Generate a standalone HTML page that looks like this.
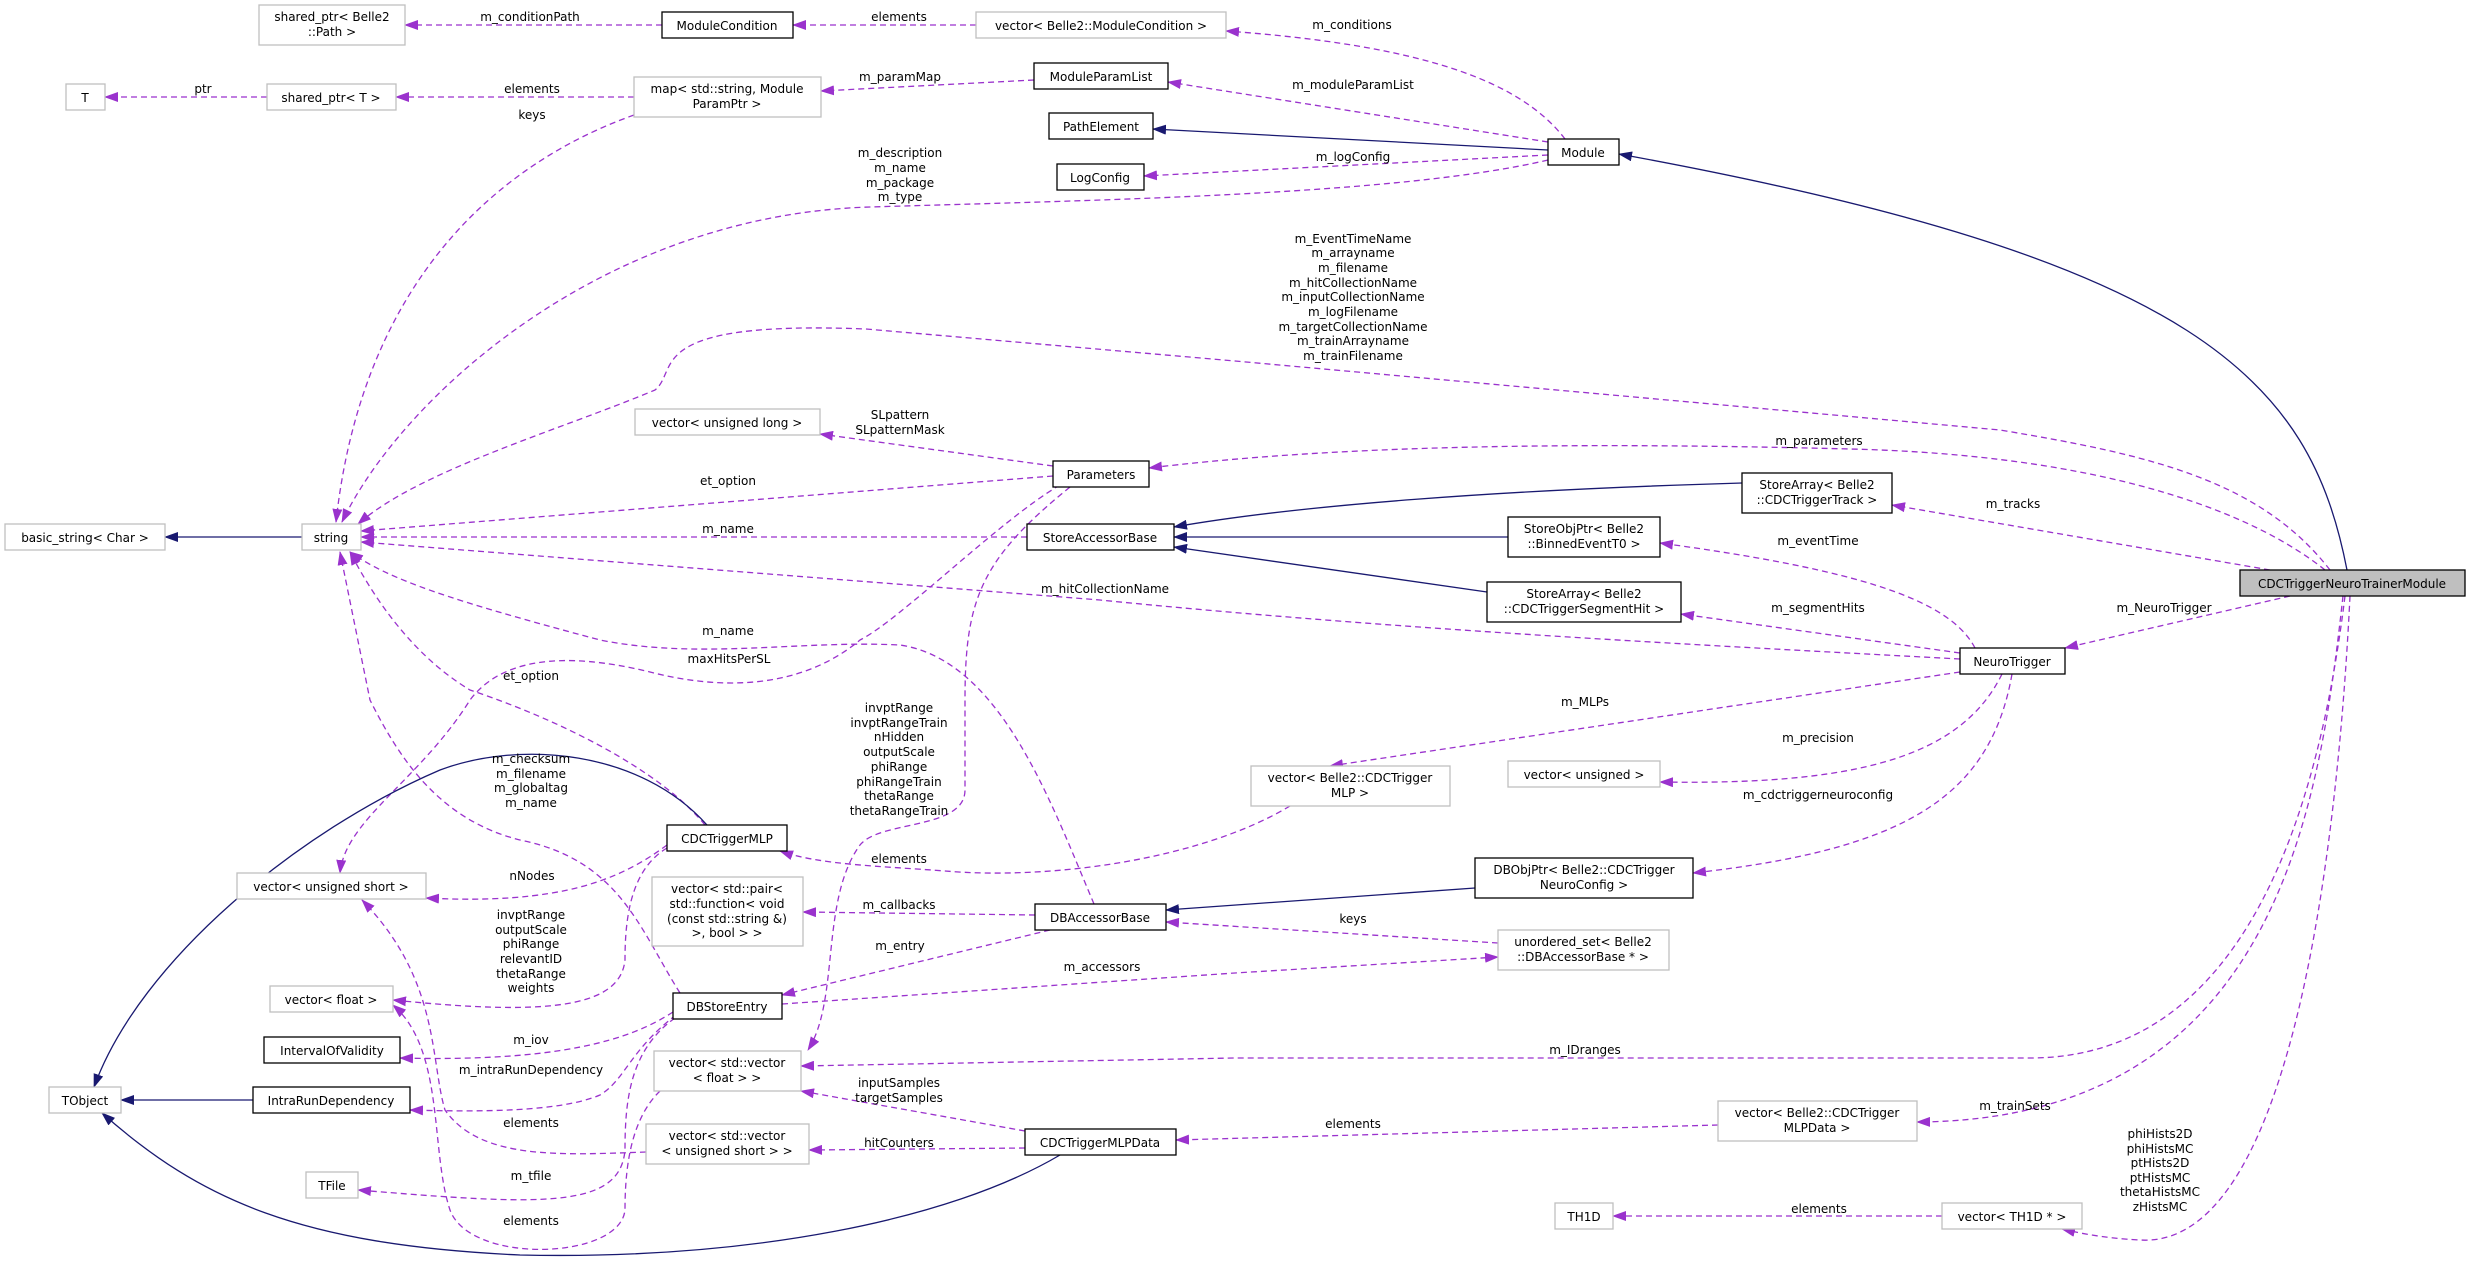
<!DOCTYPE html>
<html><head><meta charset="utf-8"><style>
html,body{margin:0;padding:0;background:#fff;}
svg{display:block;}
text{font-family:"DejaVu Sans","Liberation Sans",sans-serif;font-size:12px;fill:#000;}
.g{fill:#fff;stroke:#bfbfbf;stroke-width:1.3;}
.b{fill:#fff;stroke:#000;stroke-width:1.3;}
.e{fill:none;stroke:#9a32cd;stroke-width:1.3;stroke-dasharray:6,4;marker-end:url(#ap);}
.s{fill:none;stroke:#191970;stroke-width:1.3;marker-end:url(#an);}
</style></head><body>
<svg width="2469" height="1261" viewBox="0 0 2469 1261" xmlns="http://www.w3.org/2000/svg">
<defs>
<marker id="ap" markerWidth="14" markerHeight="10" refX="13" refY="5" orient="auto" markerUnits="userSpaceOnUse"><path d="M0,0 L14,5 L0,10 z" fill="#9a32cd"/></marker>
<marker id="an" markerWidth="14" markerHeight="10" refX="13" refY="5" orient="auto" markerUnits="userSpaceOnUse"><path d="M0,0 L14,5 L0,10 z" fill="#191970"/></marker>
</defs>

<!-- edges -->
<path class="e" d="M662,25 L405,25"/>
<path class="e" d="M976,25 L793,25"/>
<path class="e" d="M1565,139 C1520,80 1420,45 1226,31"/>
<path class="e" d="M1548,142 L1168,82"/>
<path class="s" d="M1548,150 L1153,129"/>
<path class="e" d="M1548,155 L1144,176"/>
<path class="e" d="M1548,160 C1400,195 1100,200 870,207 C600,215 400,400 342,522"/>
<path class="e" d="M1034,80 L821,91"/>
<path class="e" d="M634,97 L396,97"/>
<path class="e" d="M267,97 L105,97"/>
<path class="e" d="M634,115 C480,170 360,300 336,522"/>
<path class="s" d="M2347,570 C2310,380 2200,260 1619,154"/>
<path class="e" d="M2330,570 C2260,480 2150,455 2000,430 L1235,361 L866,329 C640,320 680,370 655,390 C560,430 420,470 358,524"/>
<path class="e" d="M2325,570 C2250,510 2100,455 1850,449 C1500,440 1300,450 1149,468"/>
<path class="e" d="M2270,570 L1892,505"/>
<path class="e" d="M1053,466 L820,434"/>
<path class="e" d="M1053,476 L361,531"/>
<path class="e" d="M1027,537 L361,537"/>
<path class="e" d="M1960,659 C1700,645 1400,630 1100,600 L361,542"/>
<path class="s" d="M1742,483 C1500,490 1300,505 1174,527"/>
<path class="s" d="M1508,537 L1174,537"/>
<path class="s" d="M1487,592 L1174,547"/>
<path class="e" d="M1975,648 C1950,600 1860,570 1660,543"/>
<path class="e" d="M1960,653 L1681,614"/>
<path class="e" d="M2290,596 L2065,648"/>
<path class="e" d="M1960,672 L1330,766"/>
<path class="e" d="M2002,674 C1960,760 1850,785 1660,782"/>
<path class="e" d="M2012,674 C1990,800 1900,850 1693,873"/>
<path class="e" d="M1094,904 C1050,800 1000,660 900,645 C800,640 700,660 600,640 C450,600 390,580 350,552"/>
<path class="e" d="M1060,485 C1000,520 900,620 860,640 C800,690 720,690 650,672 C560,650 500,660 470,700 C420,780 345,820 340,873"/>
<path class="e" d="M1070,487 C980,560 965,600 965,700 L965,790 C965,830 880,820 860,845 C820,900 840,1000 808,1050"/>
<path class="e" d="M705,825 C660,770 560,720 470,690 C420,660 380,610 350,552"/>
<path class="e" d="M680,993 C640,930 620,860 520,840 C440,820 400,760 370,700 L340,552"/>
<path class="e" d="M667,845 C620,880 560,905 426,898"/>
<path class="e" d="M667,848 C630,870 625,920 625,960 C620,1010 540,1015 393,1000"/>
<path class="e" d="M673,1012 C630,1040 560,1062 400,1058"/>
<path class="e" d="M676,1015 C630,1050 625,1080 600,1095 C560,1112 480,1112 410,1110"/>
<path class="s" d="M253,1100 L121,1100"/>
<path class="s" d="M707,825 C640,750 520,740 440,770 C300,830 140,960 94,1087"/>
<path class="s" d="M1060,1155 C950,1220 750,1260 520,1255 C300,1245 200,1200 102,1113"/>
<path class="e" d="M1035,915 L803,912"/>
<path class="e" d="M1050,930 L782,995"/>
<path class="e" d="M782,1004 L1235,973 L1498,957"/>
<path class="e" d="M1498,943 L1166,922"/>
<path class="s" d="M1475,888 L1166,910"/>
<path class="e" d="M1290,806 C1200,860 1050,880 945,871 C880,866 820,865 780,851"/>
<path class="e" d="M2345,596 C2320,800 2250,1058 2030,1058 L1235,1058 L801,1066"/>
<path class="e" d="M2343,596 C2320,800 2280,1120 1917,1122"/>
<path class="e" d="M2350,596 C2340,800 2300,1250 2140,1240 C2100,1238 2075,1232 2062,1229"/>
<path class="e" d="M1942,1216 L1613,1216"/>
<path class="e" d="M1718,1125 L1176,1140"/>
<path class="e" d="M1025,1131 L801,1091"/>
<path class="e" d="M1025,1148 L809,1150"/>
<path class="e" d="M646,1152 C560,1155 480,1160 445,1110 C430,1060 440,980 362,900"/>
<path class="e" d="M675,1018 C630,1050 625,1100 625,1150 C620,1210 540,1205 358,1190"/>
<path class="e" d="M660,1091 C630,1120 625,1170 625,1210 C620,1260 470,1265 450,1210 C430,1150 445,1050 393,1005"/>
<path class="s" d="M302,537 L165,537"/>

<!-- edge labels -->
<g text-anchor="middle">
<text x="530" y="21">m_conditionPath</text>
<text x="899" y="21">elements</text>
<text x="1352" y="29">m_conditions</text>
<text x="1353" y="89">m_moduleParamList</text>
<text x="1353" y="161">m_logConfig</text>
<text x="900" y="157">m_description</text>
<text x="900" y="172">m_name</text>
<text x="900" y="187">m_package</text>
<text x="900" y="201">m_type</text>
<text x="900" y="81">m_paramMap</text>
<text x="532" y="93">elements</text>
<text x="203" y="93">ptr</text>
<text x="532" y="119">keys</text>
<text x="1353" y="243">m_EventTimeName</text>
<text x="1353" y="257">m_arrayname</text>
<text x="1353" y="272">m_filename</text>
<text x="1353" y="287">m_hitCollectionName</text>
<text x="1353" y="301">m_inputCollectionName</text>
<text x="1353" y="316">m_logFilename</text>
<text x="1353" y="331">m_targetCollectionName</text>
<text x="1353" y="345">m_trainArrayname</text>
<text x="1353" y="360">m_trainFilename</text>
<text x="1819" y="445">m_parameters</text>
<text x="2013" y="508">m_tracks</text>
<text x="900" y="419">SLpattern</text>
<text x="900" y="434">SLpatternMask</text>
<text x="728" y="485">et_option</text>
<text x="728" y="533">m_name</text>
<text x="1105" y="593">m_hitCollectionName</text>
<text x="1818" y="545">m_eventTime</text>
<text x="1818" y="612">m_segmentHits</text>
<text x="2164" y="612">m_NeuroTrigger</text>
<text x="1585" y="706">m_MLPs</text>
<text x="1818" y="742">m_precision</text>
<text x="1818" y="799">m_cdctriggerneuroconfig</text>
<text x="728" y="635">m_name</text>
<text x="729" y="663">maxHitsPerSL</text>
<text x="531" y="680">et_option</text>
<text x="899" y="712">invptRange</text>
<text x="899" y="727">invptRangeTrain</text>
<text x="899" y="741">nHidden</text>
<text x="899" y="756">outputScale</text>
<text x="899" y="771">phiRange</text>
<text x="899" y="786">phiRangeTrain</text>
<text x="899" y="800">thetaRange</text>
<text x="899" y="815">thetaRangeTrain</text>
<text x="531" y="763">m_checksum</text>
<text x="531" y="778">m_filename</text>
<text x="531" y="792">m_globaltag</text>
<text x="531" y="807">m_name</text>
<text x="532" y="880">nNodes</text>
<text x="531" y="919">invptRange</text>
<text x="531" y="934">outputScale</text>
<text x="531" y="948">phiRange</text>
<text x="531" y="963">relevantID</text>
<text x="531" y="978">thetaRange</text>
<text x="531" y="992">weights</text>
<text x="531" y="1044">m_iov</text>
<text x="531" y="1074">m_intraRunDependency</text>
<text x="899" y="909">m_callbacks</text>
<text x="900" y="950">m_entry</text>
<text x="1102" y="971">m_accessors</text>
<text x="1353" y="923">keys</text>
<text x="899" y="863">elements</text>
<text x="1585" y="1054">m_IDranges</text>
<text x="2015" y="1110">m_trainSets</text>
<text x="2160" y="1138">phiHists2D</text>
<text x="2160" y="1153">phiHistsMC</text>
<text x="2160" y="1167">ptHists2D</text>
<text x="2160" y="1182">ptHistsMC</text>
<text x="2160" y="1196">thetaHistsMC</text>
<text x="2160" y="1211">zHistsMC</text>
<text x="1819" y="1213">elements</text>
<text x="1353" y="1128">elements</text>
<text x="899" y="1087">inputSamples</text>
<text x="899" y="1102">targetSamples</text>
<text x="899" y="1147">hitCounters</text>
<text x="531" y="1127">elements</text>
<text x="531" y="1180">m_tfile</text>
<text x="531" y="1225">elements</text>
</g>

<!-- nodes -->
<g text-anchor="middle">
<rect class="g" x="259" y="5" width="146" height="40"/><text x="332" y="21">shared_ptr&lt; Belle2</text><text x="332" y="36">::Path &gt;</text>
<rect class="b" x="662" y="12" width="131" height="26"/><text x="727" y="30">ModuleCondition</text>
<rect class="g" x="976" y="12" width="250" height="26"/><text x="1101" y="30">vector&lt; Belle2::ModuleCondition &gt;</text>
<rect class="g" x="66" y="84" width="39" height="26"/><text x="85" y="102">T</text>
<rect class="g" x="267" y="84" width="129" height="26"/><text x="331" y="102">shared_ptr&lt; T &gt;</text>
<rect class="g" x="634" y="77" width="187" height="40"/><text x="727" y="93">map&lt; std::string, Module</text><text x="727" y="108">ParamPtr &gt;</text>
<rect class="b" x="1034" y="63" width="134" height="26"/><text x="1101" y="81">ModuleParamList</text>
<rect class="b" x="1049" y="113" width="104" height="26"/><text x="1101" y="131">PathElement</text>
<rect class="b" x="1057" y="164" width="87" height="26"/><text x="1100" y="182">LogConfig</text>
<rect class="g" x="635" y="409" width="185" height="26"/><text x="727" y="427">vector&lt; unsigned long &gt;</text>
<rect class="b" x="1053" y="461" width="96" height="26"/><text x="1101" y="479">Parameters</text>
<rect class="g" x="5" y="524" width="160" height="26"/><text x="85" y="542">basic_string&lt; Char &gt;</text>
<rect class="g" x="302" y="524" width="59" height="26"/><text x="331" y="542">string</text>
<rect class="b" x="1027" y="524" width="147" height="26"/><text x="1100" y="542">StoreAccessorBase</text>
<rect class="b" x="1548" y="139" width="71" height="26"/><text x="1583" y="157">Module</text>
<rect class="b" x="1742" y="473" width="150" height="40"/><text x="1817" y="489">StoreArray&lt; Belle2</text><text x="1817" y="504">::CDCTriggerTrack &gt;</text>
<rect class="b" x="1508" y="517" width="152" height="40"/><text x="1584" y="533">StoreObjPtr&lt; Belle2</text><text x="1584" y="548">::BinnedEventT0 &gt;</text>
<rect class="b" x="1487" y="582" width="194" height="40"/><text x="1584" y="598">StoreArray&lt; Belle2</text><text x="1584" y="613">::CDCTriggerSegmentHit &gt;</text>
<rect x="2240" y="570" width="225" height="26" fill="#bfbfbf" stroke="#000" stroke-width="1.3"/><text x="2352" y="588">CDCTriggerNeuroTrainerModule</text>
<rect class="b" x="667" y="825" width="120" height="26"/><text x="727" y="843">CDCTriggerMLP</text>
<rect class="g" x="237" y="873" width="189" height="26"/><text x="331" y="891">vector&lt; unsigned short &gt;</text>
<rect class="g" x="652" y="877" width="151" height="69"/><text x="727" y="893">vector&lt; std::pair&lt;</text><text x="727" y="908">std::function&lt; void</text><text x="727" y="923">(const std::string &amp;)</text><text x="727" y="937">&gt;, bool &gt; &gt;</text>
<rect class="b" x="1035" y="904" width="131" height="26"/><text x="1100" y="922">DBAccessorBase</text>
<rect class="g" x="270" y="986" width="123" height="26"/><text x="331" y="1004">vector&lt; float &gt;</text>
<rect class="b" x="673" y="993" width="109" height="26"/><text x="727" y="1011">DBStoreEntry</text>
<rect class="b" x="264" y="1037" width="136" height="26"/><text x="332" y="1055">IntervalOfValidity</text>
<rect class="g" x="654" y="1051" width="147" height="40"/><text x="727" y="1067">vector&lt; std::vector</text><text x="727" y="1082">&lt; float &gt; &gt;</text>
<rect class="g" x="49" y="1087" width="72" height="26"/><text x="85" y="1105">TObject</text>
<rect class="b" x="253" y="1087" width="157" height="26"/><text x="331" y="1105">IntraRunDependency</text>
<rect class="g" x="646" y="1124" width="163" height="40"/><text x="727" y="1140">vector&lt; std::vector</text><text x="727" y="1155">&lt; unsigned short &gt; &gt;</text>
<rect class="b" x="1025" y="1129" width="151" height="26"/><text x="1100" y="1147">CDCTriggerMLPData</text>
<rect class="g" x="306" y="1172" width="52" height="26"/><text x="332" y="1190">TFile</text>
<rect class="b" x="1960" y="648" width="105" height="26"/><text x="2012" y="666">NeuroTrigger</text>
<rect class="g" x="1251" y="766" width="199" height="40"/><text x="1350" y="782">vector&lt; Belle2::CDCTrigger</text><text x="1350" y="797">MLP &gt;</text>
<rect class="g" x="1508" y="761" width="152" height="26"/><text x="1584" y="779">vector&lt; unsigned &gt;</text>
<rect class="b" x="1475" y="858" width="218" height="40"/><text x="1584" y="874">DBObjPtr&lt; Belle2::CDCTrigger</text><text x="1584" y="889">NeuroConfig &gt;</text>
<rect class="g" x="1498" y="930" width="171" height="40"/><text x="1583" y="946">unordered_set&lt; Belle2</text><text x="1583" y="961">::DBAccessorBase * &gt;</text>
<rect class="g" x="1718" y="1101" width="199" height="40"/><text x="1817" y="1117">vector&lt; Belle2::CDCTrigger</text><text x="1817" y="1132">MLPData &gt;</text>
<rect class="g" x="1555" y="1203" width="58" height="26"/><text x="1584" y="1221">TH1D</text>
<rect class="g" x="1942" y="1203" width="140" height="26"/><text x="2012" y="1221">vector&lt; TH1D * &gt;</text>
</g>
</svg>
</body></html>
